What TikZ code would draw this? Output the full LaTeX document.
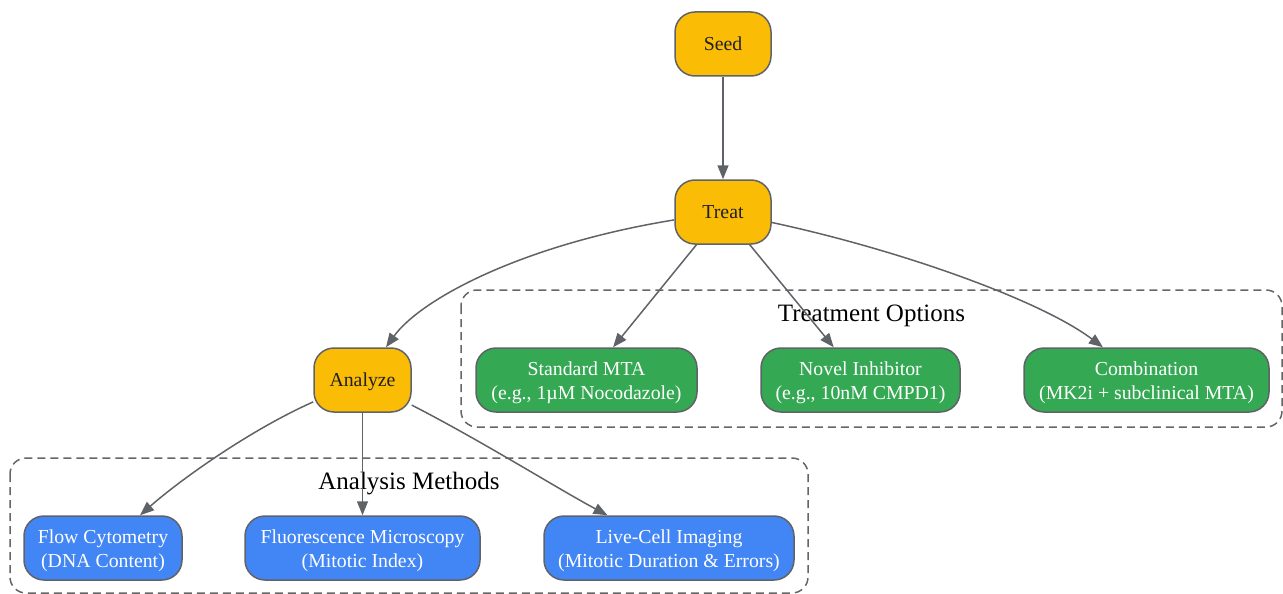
\documentclass[tikz,border=0pt]{standalone}
\usepackage{fontspec}
\setmainfont{Liberation Serif}
\usetikzlibrary{arrows.meta}
\definecolor{orng}{HTML}{FBBC05}
\definecolor{grn}{HTML}{34A853}
\definecolor{blu}{HTML}{4285F4}
\definecolor{edge}{HTML}{5F6368}
\definecolor{dark}{HTML}{202124}
\definecolor{clus}{HTML}{666666}
\newcommand{\mytop}{\rule{0pt}{20pt}}
\newcommand{\mybot}{\rule[-5pt]{0pt}{5pt}}
\newcommand{\mystrut}{\rule[-5pt]{0pt}{23pt}}
\tikzset{
  box/.style={draw=edge, line width=1.5pt, rounded corners=20pt, inner sep=0pt,
    minimum height=64pt, align=center, font=\fontsize{19.8}{24}\selectfont},
  stage/.style={box, fill=orng, text=dark, minimum width=96pt},
  treatbox/.style={box, fill=grn, text=white},
  anabox/.style={box, fill=blu, text=white},
  cluster/.style={draw=clus, line width=1.5pt, dash pattern=on 8pt off 5pt, rounded corners=16pt},
  clabel/.style={font=\fontsize{25}{29}\selectfont, text=black, inner sep=0pt},
  arr/.style={draw=edge, line width=1.5pt, -{Triangle[length=14pt,width=11pt]}}
}
\begin{document}
\begin{tikzpicture}[x=1pt,y=-1pt]
\useasboundingbox (0,0) rectangle (1283,594);
% clusters
\draw[cluster] (461,290) rectangle (1282,427);
\draw[cluster] (10,458) rectangle (808,593);
\node[clabel] (tlab) at (871.5,316) {Treatment Options};
\node[clabel] (alab) at (409,484) {Analysis Methods};
% nodes
\node[stage] (seed) at (723,44) {\mystrut Seed};
\node[stage] (treat) at (723,212) {\mystrut Treat};
\node[stage, minimum width=97pt] (analyze) at (362.5,380) {\mystrut Analyze};
\node[treatbox, minimum width=221pt] (std) at (586.5,380) {\mytop Standard MTA\\(e.g., 1µM Nocodazole)\mybot};
\node[treatbox, minimum width=199pt] (novel) at (860.5,380) {\mytop Novel Inhibitor\\(e.g., 10nM CMPD1)\mybot};
\node[treatbox, minimum width=245pt] (comb) at (1146.5,380) {\mytop Combination\\(MK2i + subclinical MTA)\mybot};
\node[anabox, minimum width=158pt] (flow) at (103,548) {\mytop Flow Cytometry\\(DNA Content)\mybot};
\node[anabox, minimum width=235pt] (fluor) at (362.5,548) {\mytop Fluorescence Microscopy\\(Mitotic Index)\mybot};
\node[anabox, minimum width=250pt] (live) at (669,548) {\mytop Live-Cell Imaging\\(Mitotic Duration \& Errors)\mybot};
% edges
\draw[arr] (seed) -- (treat);
\draw[arr] (treat) .. controls (520,245) and (420,300) .. (analyze);
\draw[arr] (treat) -- (std);
\draw[arr] (treat) -- (novel);
\draw[arr] (treat) .. controls (900,250) and (1040,300) .. (comb);
\draw[arr] (analyze) .. controls (250,430) and (180,480) .. (flow);
\draw[arr] (analyze) -- (fluor);
\draw[arr] (analyze) .. controls (480,440) and (560,490) .. (live);
\end{tikzpicture}
\end{document}
